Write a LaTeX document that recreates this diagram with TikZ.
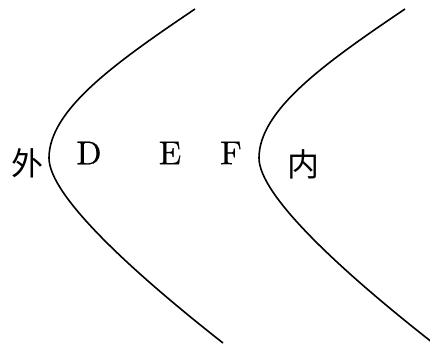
\documentclass[tikz,border=0pt]{standalone}
\usepackage{fontspec}
\newfontfamily\cjkfont{Noto Sans CJK SC}
\newfontfamily\lmheavy{Latin Modern Roman}[FakeBold=0.5]
\begin{document}
\begin{tikzpicture}[x=1pt,y=-1pt,
  curve/.style={line width=1.6pt},
  lab/.style={inner sep=0pt,scale=3.3,font=\fontsize{10}{12}\lmheavy},
  cjk/.style={inner sep=0pt,font=\fontsize{32}{36}\selectfont\cjkfont}]
\useasboundingbox (0,0) rectangle (430,347);
\begin{scope}
\clip (0,0) rectangle (430,347);
\foreach \s in {0,210}{
\draw[curve,xshift=\s] (195,9) .. controls (115,63) and (49,110) .. (49,158)
  .. controls (49,195) and (130,270) .. (223,343);
}
\end{scope}
\node[cjk] (wai) at (27,163) {外};
\node[lab] (d) at (89,153) {D};
\node[lab] (e) at (170,153) {E};
\node[lab] (f) at (231,153) {F};
\node[cjk] (nei) at (303,164) {内};
\end{tikzpicture}
\end{document}
